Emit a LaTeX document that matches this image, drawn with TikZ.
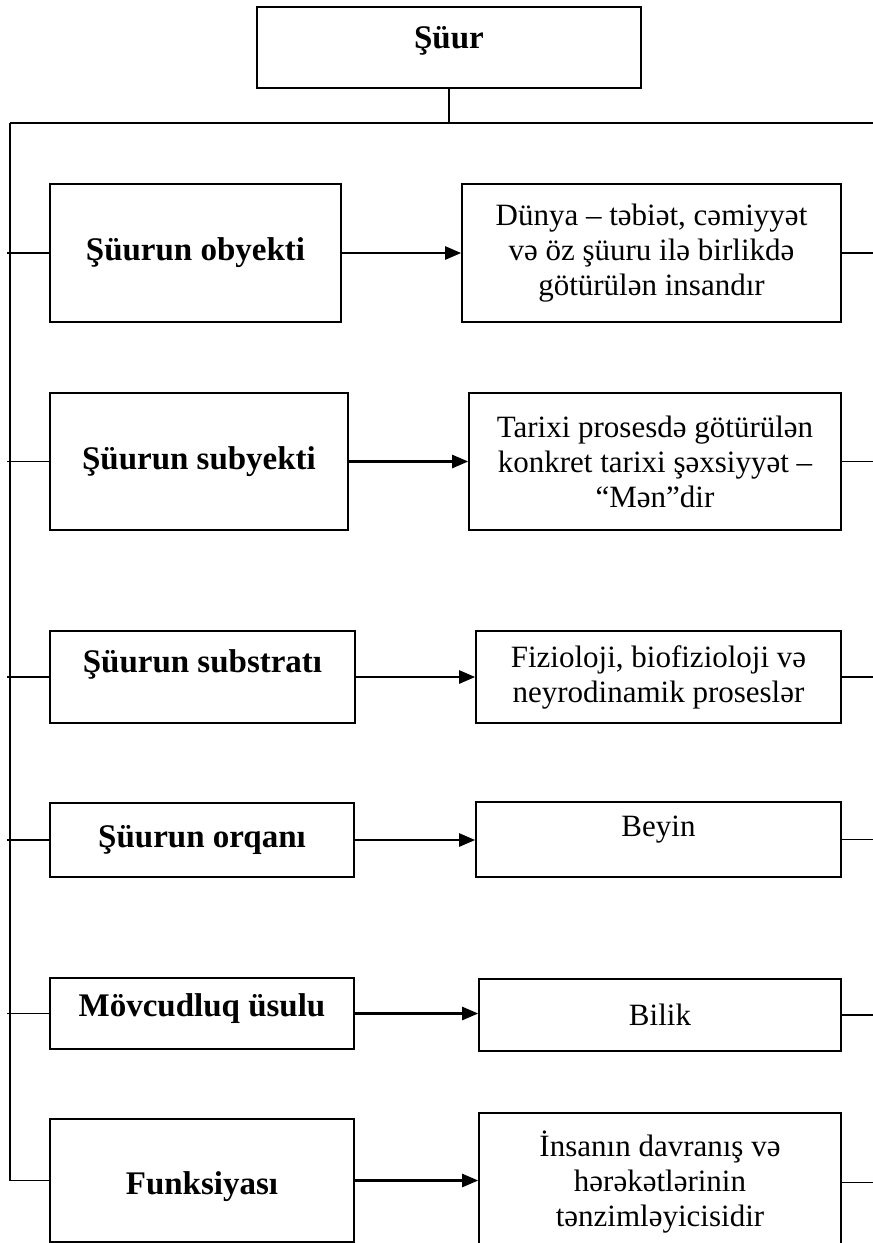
\documentclass[tikz,border=0pt]{standalone}
\usepackage{fontspec}
\setmainfont{Liberation Serif}
\usetikzlibrary{arrows.meta,positioning}
\newcommand\liftby[2]{\raisebox{#1}[\height][\depth]{#2}}
\tikzset{
  >={Triangle[length=16pt,width=13pt]},
  box/.style={draw,line width=1.6pt,inner sep=0pt,align=center,
    font=\fontsize{31}{35}\selectfont},
  head/.style={box,font=\fontsize{33}{37}\selectfont\bfseries},
  link/.style={line width=1.5pt},
  flow/.style={->,line width=2.4pt},
}
\begin{document}
\begin{tikzpicture}[x=1pt,y=-1pt]
  \useasboundingbox (0,0) rectangle (873,1243);
  \node[head,line width=2.2pt,minimum width=384pt,minimum height=81pt] (s) at (449,47.5) {\liftby{7pt}{Şüur}};
  % left column
  \node[head,minimum width=291pt,minimum height=138pt] (a1) at (195.5,253) {Şüurun obyekti};
  \node[head,minimum width=298pt,minimum height=137pt] (a2) at (199,461.5) {Şüurun subyekti};
  \node[head,minimum width=305pt,minimum height=92pt] (a3) at (202.5,677) {\liftby{13pt}{Şüurun substratı}};
  \node[head,minimum width=304pt,minimum height=74pt] (a4) at (202,840) {Şüurun orqanı};
  \node[head,minimum width=304pt,minimum height=71pt] (a5) at (202,1013.5) {\liftby{5pt}{Mövcudluq üsulu}};
  \node[head,minimum width=304pt,minimum height=123pt] (a6) at (202,1180.5) {\liftby{-6pt}{Funksiyası}};
  % right column
  \node[box,minimum width=379pt,minimum height=138pt] (b1) at (651.5,253) {Dünya – təbiət, cəmiyyət\\və öz şüuru ilə birlikdə\\götürülən insandır};
  \node[box,minimum width=372pt,minimum height=137pt] (b2) at (655,461.5) {Tarixi prosesdə götürülən\\konkret tarixi şəxsiyyət –\\“Mən”dir};
  \node[box,minimum width=365pt,minimum height=92pt] (b3) at (658.5,677) {Fizioloji, biofizioloji və\\neyrodinamik proseslər};
  \node[box,minimum width=365pt,minimum height=75pt] (b4) at (658.5,839.5) {\liftby{10pt}{Beyin}};
  \node[box,minimum width=362pt,minimum height=72pt] (b5) at (660,1015) {Bilik};
  \node[box,minimum width=362pt,minimum height=139pt] (b6) at (660,1182.5) {İnsanın davranış və\\hərəkətlərinin\\tənzimləyicisidir};
  % trunk
  \coordinate (top) at (10,123);
  \draw[link] (s.south) |- (top);
  \draw[link] (top) -- (880,123);
  \draw[link] (top) |- (a6.west);
  \foreach \i in {1,...,5}
    \draw[link] ([xshift=-3pt]a\i.west -| top) -- (a\i.west);
  \foreach \i in {1,...,6}{
    \draw[flow] (a\i.east) -- (a\i.east -| b\i.west);
    \draw[link] (b\i.east) -- ++(40,0);
  }
\end{tikzpicture}
\end{document}
